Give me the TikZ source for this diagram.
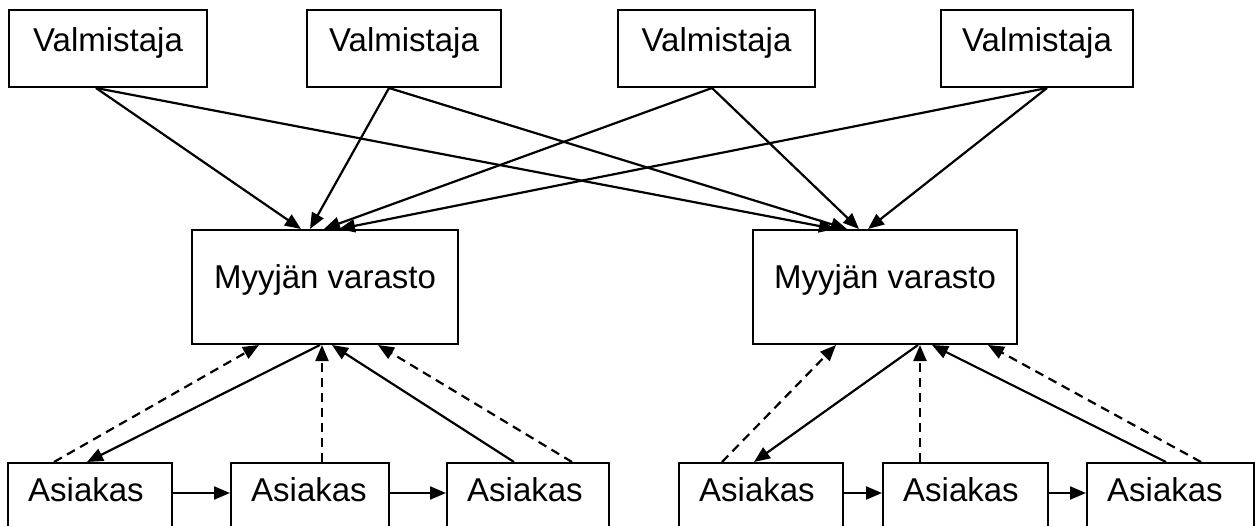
\documentclass[tikz,border=0pt]{standalone}
\usepackage{fontspec}
\setmainfont{Liberation Sans}
\usetikzlibrary{arrows.meta,calc}
\begin{document}
\begin{tikzpicture}[x=1pt,y=-1pt,
  box/.style={draw, line width=2pt, rectangle, inner sep=0pt},
  topbox/.style={box, minimum height=77pt},
  whbox/.style={box, minimum height=114pt},
  custbox/.style={box, minimum height=77pt},
  txt/.style={font=\fontsize{33}{39}\selectfont, inner sep=0pt, anchor=base},
  ltxt/.style={txt, anchor=base west},
  conn/.style={line width=2.2pt, -{Triangle[length=16pt,width=13pt]}},
  dconn/.style={conn, dash pattern=on 9pt off 6pt}
]
\useasboundingbox (0,0) rectangle (1255,526);
\fill[white] (0,0) rectangle (1255,526);
\clip (0,0) rectangle (1255,526);

% manufacturers
\node[topbox, minimum width=198pt] (v1) at (108,48.5) {};
\node[topbox, minimum width=194pt] (v2) at (404,48.5) {};
\node[topbox, minimum width=197pt] (v3) at (716.5,48.5) {};
\node[topbox, minimum width=192pt] (v4) at (1037,48.5) {};
\foreach \n in {v1,v2,v3,v4}
  \node[txt] (\n t) at ($(\n.center)+(0,3)$) {Valmistaja};

% warehouses
\node[whbox, minimum width=266pt] (w1) at (325,287) {};
\node[whbox, minimum width=264pt] (w2) at (885,287) {};
\foreach \n in {w1,w2}
  \node[txt] (\n t) at ($(\n.center)+(0,2)$) {Myyjän varasto};

% customers
\node[custbox, minimum width=164pt] (a1) at (90,501.5) {};
\node[custbox, minimum width=158pt] (a2) at (310,501.5) {};
\node[custbox, minimum width=162pt] (a3) at (528,501.5) {};
\node[custbox, minimum width=164pt] (a4) at (761,501.5) {};
\node[custbox, minimum width=165pt] (a5) at (965.5,501.5) {};
\node[custbox, minimum width=167pt] (a6) at (1170.5,501.5) {};
\foreach \n in {a1,a2,a3,a4,a5,a6}
  \node[ltxt] (\n t) at ($(\n.north west)+(21,39)$) {Asiakas};

% connection points on the manufacturers
\coordinate (v1o) at ($(v1.south west)+(88,0)$);
\coordinate (v2o) at ($(v2.south west)+(83,0)$);
\coordinate (v3o) at ($(v3.south west)+(95,0)$);
\coordinate (v4o) at ($(v4.south west)+(107,0)$);
% inputs on top of the warehouses
\coordinate (w1i1) at ($(w1.north west)+(110,0)$);
\coordinate (w1i2) at ($(w1.north west)+(119,0)$);
\coordinate (w1i3) at ($(w1.north west)+(133,0)$);
\coordinate (w1i4) at ($(w1.north west)+(148,0)$);
\coordinate (w2i1) at ($(w2.north west)+(83,0)$);
\coordinate (w2i2) at ($(w2.north west)+(95,0)$);
\coordinate (w2i3) at ($(w2.north west)+(107,0)$);
\coordinate (w2i4) at ($(w2.north west)+(116,0)$);

\draw[conn] (v1o) -- (w1i1);
\draw[conn] (v1o) -- (w2i1);
\draw[conn] (v2o) -- (w1i2);
\draw[conn] (v2o) -- (w2i2);
\draw[conn] (v3o) -- (w1i3);
\draw[conn] (v3o) -- (w2i3);
\draw[conn] (v4o) -- (w1i4);
\draw[conn] (v4o) -- (w2i4);

% left warehouse and its customers
\coordinate (w1b1) at ($(w1.south west)+(68,0)$);
\coordinate (w1b2) at ($(w1.south west)+(129,0)$);
\coordinate (w1b3) at ($(w1.south west)+(131,0)$);
\coordinate (w1b4) at ($(w1.south west)+(141,0)$);
\coordinate (w1b5) at ($(w1.south west)+(187,0)$);
\coordinate (a1d) at ($(a1.north west)+(47,0)$);
\coordinate (a1s) at ($(a1.north west)+(80,0)$);
\coordinate (a2d) at ($(a2.north west)+(92,0)$);
\coordinate (a3s) at ($(a3.north west)+(68,0)$);
\coordinate (a3d) at ($(a3.north west)+(126,0)$);

\draw[dconn] (a1d) -- (w1b1);
\draw[conn] (w1b2) -- (a1s);
\draw[dconn] (a2d) -- (w1b3);
\draw[conn] (a3s) -- (w1b4);
\draw[dconn] (a3d) -- (w1b5);

% right warehouse and its customers
\coordinate (w2b1) at ($(w2.south west)+(84,0)$);
\coordinate (w2b2) at ($(w2.south west)+(166,0)$);
\coordinate (w2b3) at ($(w2.south west)+(168,0)$);
\coordinate (w2b4) at ($(w2.south west)+(180,0)$);
\coordinate (w2b5) at ($(w2.south west)+(236,0)$);
\coordinate (a4d) at ($(a4.north west)+(44,0)$);
\coordinate (a4s) at ($(a4.north west)+(76,0)$);
\coordinate (a5d) at ($(a5.north west)+(38,0)$);
\coordinate (a6s) at ($(a6.north west)+(80,0)$);
\coordinate (a6d) at ($(a6.north west)+(115,0)$);

\draw[dconn] (a4d) -- (w2b1);
\draw[conn] (w2b2) -- (a4s);
\draw[dconn] (a5d) -- (w2b3);
\draw[conn] (a6s) -- (w2b4);
\draw[dconn] (a6d) -- (w2b5);

% chains between customers
\foreach \p/\q in {a1/a2,a2/a3,a4/a5,a5/a6}
  \draw[conn] ($(\p.north east)+(0,31)$) -- ($(\q.north west)+(0,31)$);
\end{tikzpicture}
\end{document}
